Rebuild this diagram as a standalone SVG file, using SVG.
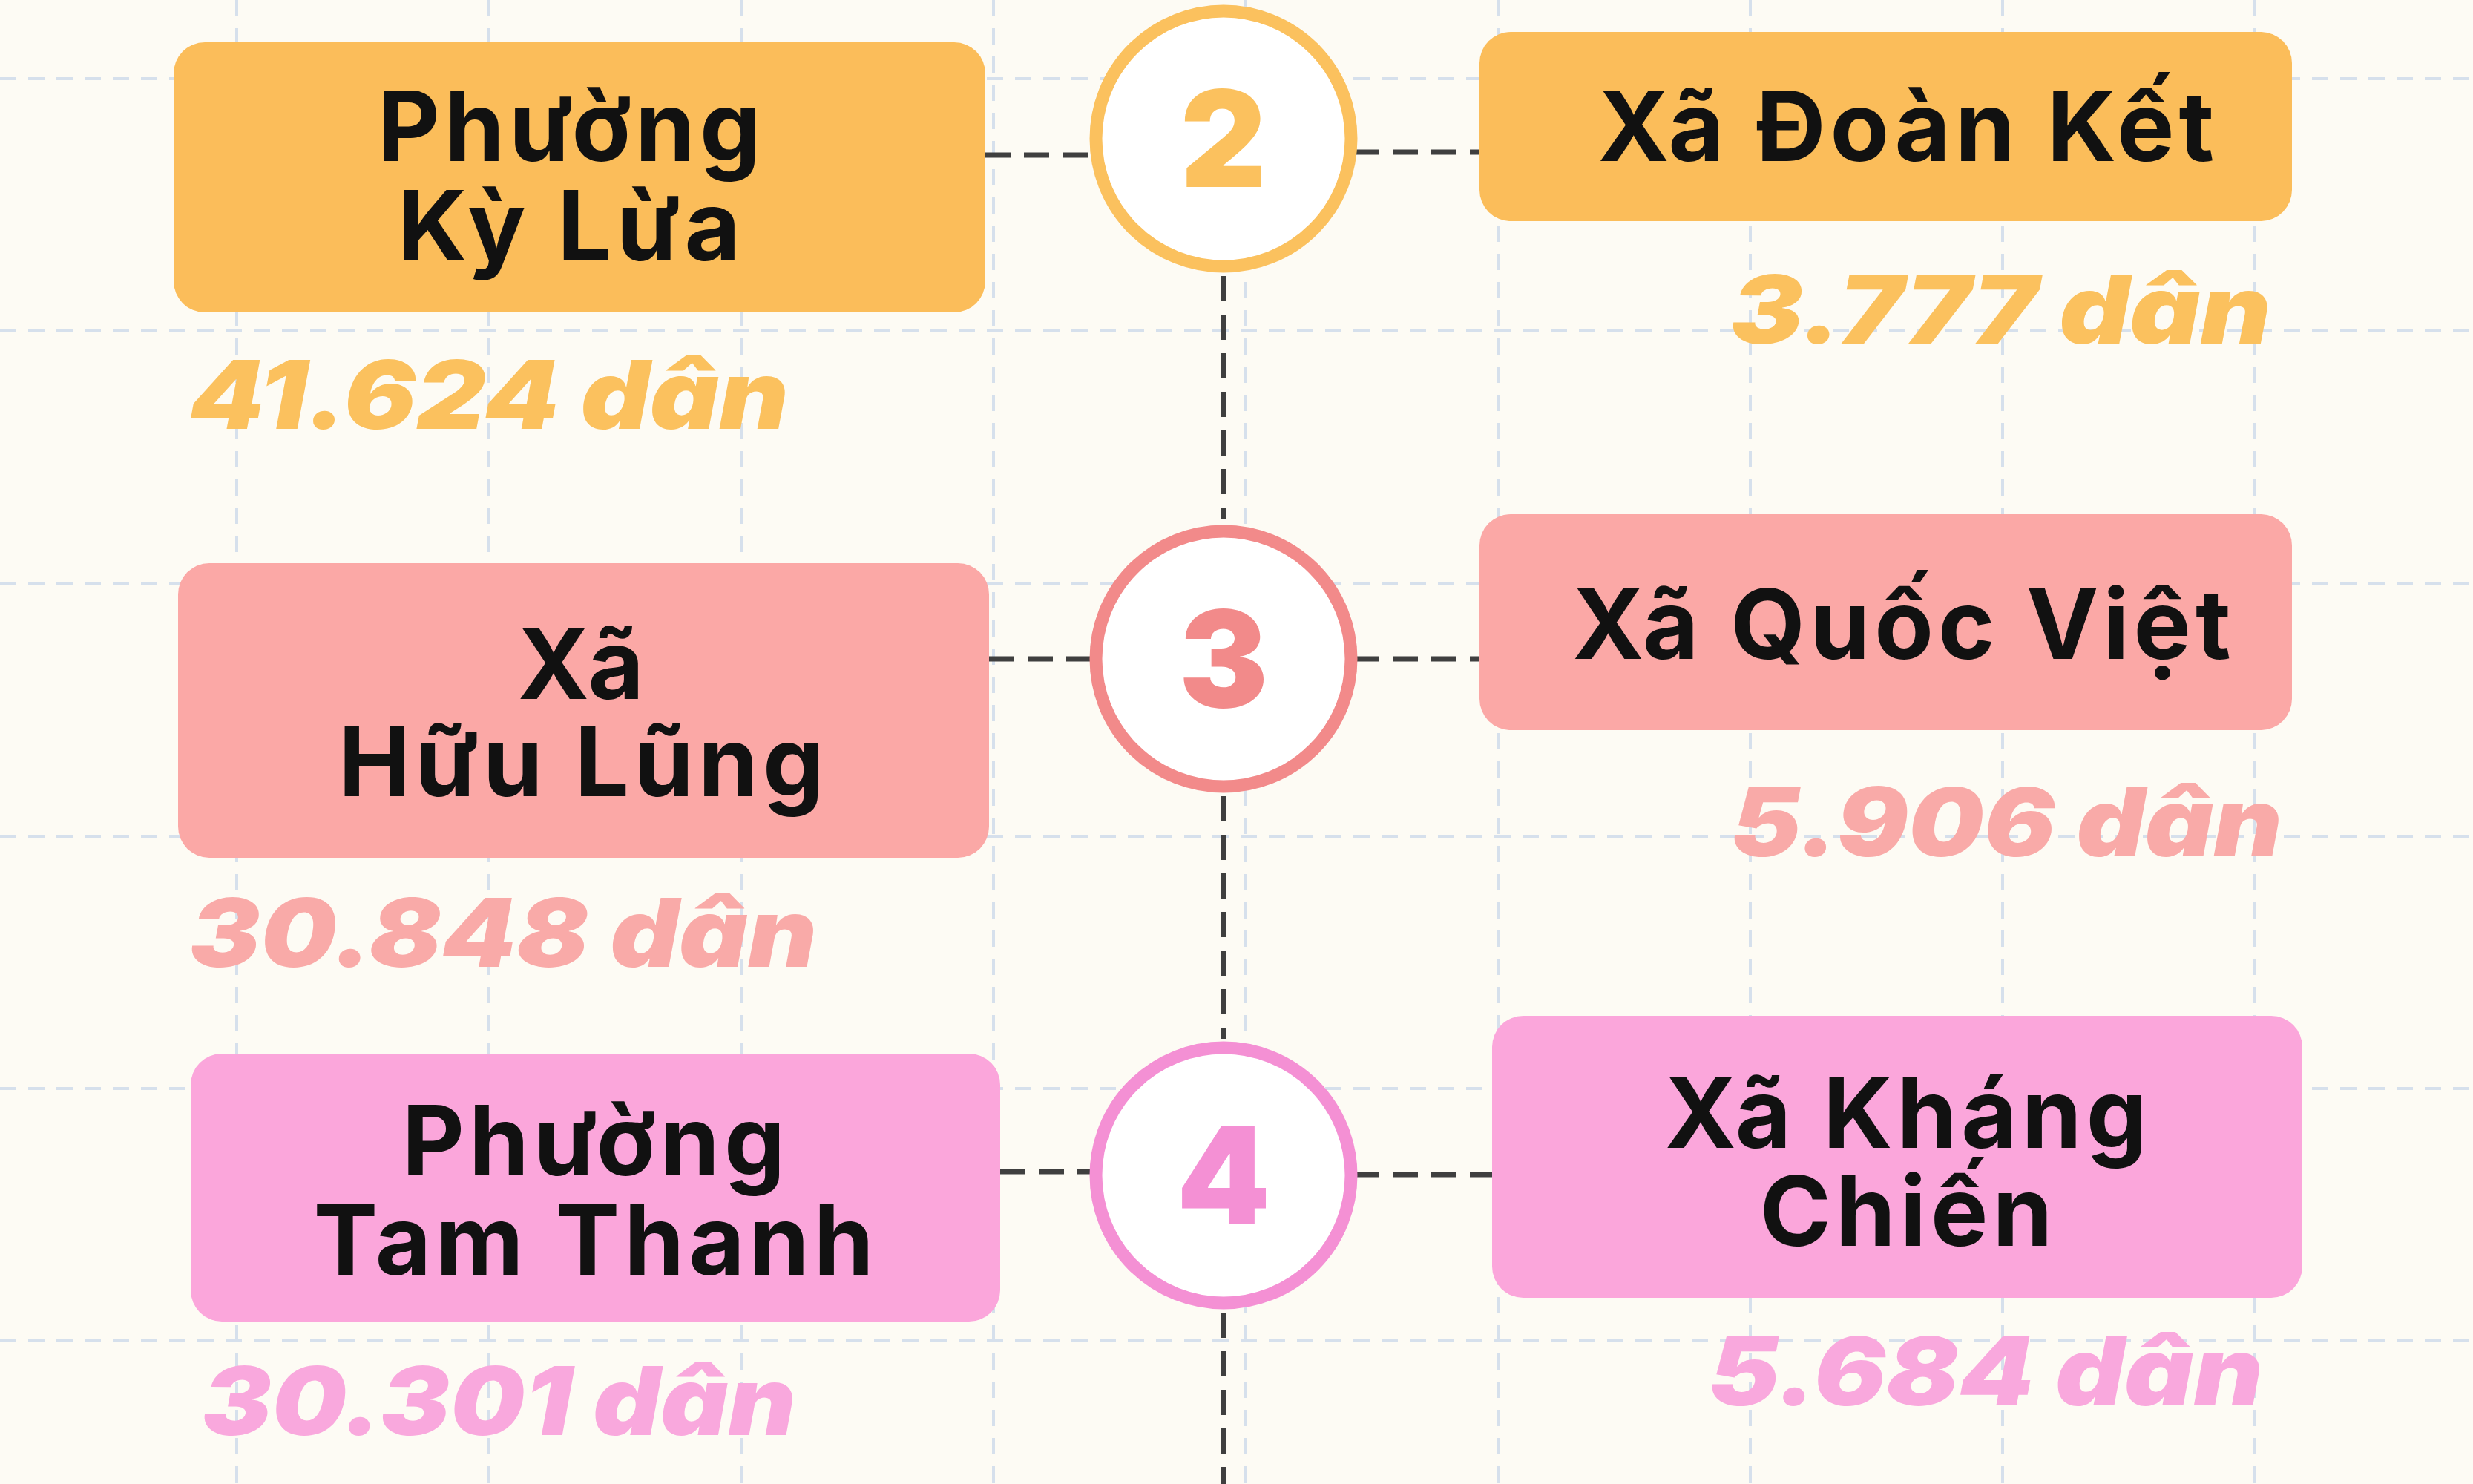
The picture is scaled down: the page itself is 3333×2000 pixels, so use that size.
<svg xmlns="http://www.w3.org/2000/svg" width="3333" height="2000" viewBox="0 0 3333 2000">
<style>
.grid{stroke:#D6E0EC;stroke-width:4;stroke-dasharray:22 16;fill:none}
.conn{stroke:#3F3F3F;stroke-width:7;stroke-dasharray:34 18;fill:none}
.lbl{font-family:Inter,"Open Sans",sans-serif;font-weight:700;font-size:130px;letter-spacing:6px;fill:#111;text-anchor:middle}
.num{font-family:Inter,"Open Sans",sans-serif;font-weight:900;font-style:italic;font-size:128px}
.dig{font-family:Inter,"Open Sans",sans-serif;font-weight:900;font-size:180px;text-anchor:middle}
</style>
<rect width="3333" height="2000" fill="#FDFBF4"/>
<g id="grid">
<path class="grid" d="M319 0V2000M659 0V2000M999 0V2000M1339 0V2000M1679 0V2000M2019 0V2000M2359 0V2000M2699 0V2000M3039 0V2000M0 106H3333M0 446H3333M0 786H3333M0 1127H3333M0 1467H3333M0 1807H3333"/>
</g>
<g id="connectors">
<path class="conn" d="M1649 372V700M1649 1073V1400M1649 1769V2000"/>
<path class="conn" d="M1328 209H1473M1825 205H1994M1333 888H1473M1825 888H1994M1348 1579H1473M1825 1583H2011"/>
</g>
<g id="n2">
<circle cx="1649" cy="187" r="172" fill="#FFFFFF" stroke="#FBC15E" stroke-width="17"/>
<text class="dig" x="1649" y="252" fill="#FBC15E">2</text>
</g>
<g id="n3">
<circle cx="1649" cy="888" r="172" fill="#FFFFFF" stroke="#F28A8A" stroke-width="17"/>
<text class="dig" x="1649" y="953" fill="#F28A8A">3</text>
</g>
<g id="n4">
<circle cx="1649" cy="1584" r="172" fill="#FFFFFF" stroke="#F490D4" stroke-width="17"/>
<text class="dig" x="1649" y="1649" fill="#F490D4">4</text>
</g>
<g id="kyLua">
<rect x="234" y="57" width="1094" height="364" rx="42" fill="#FBBD5A"/>
<text class="lbl" x="770" y="217">Phường</text>
<text class="lbl" x="770" y="351">Kỳ Lừa</text>
<text class="num" x="255" y="578" fill="#FBC15E" textLength="808" lengthAdjust="spacingAndGlyphs">41.624 dân</text>
</g>
<g id="doanKet">
<rect x="1994" y="43" width="1095" height="255" rx="42" fill="#FBBD5A"/>
<text class="lbl" x="2572" y="217">Xã Đoàn Kết</text>
<text class="num" x="2332" y="463" fill="#FBC15E" textLength="729" lengthAdjust="spacingAndGlyphs">3.777 dân</text>
</g>
<g id="huuLung">
<rect x="240" y="759" width="1093" height="397" rx="42" fill="#FBA8A6"/>
<text class="lbl" x="786" y="942">Xã</text>
<text class="lbl" x="786" y="1073">Hữu Lũng</text>
<text class="num" x="255" y="1303" fill="#F9AAA8" textLength="846" lengthAdjust="spacingAndGlyphs">30.848 dân</text>
</g>
<g id="quocViet">
<rect x="1994" y="693" width="1095" height="291" rx="42" fill="#FBA8A6"/>
<text class="lbl" x="2566" y="888">Xã Quốc Việt</text>
<text class="num" x="2332" y="1154" fill="#F9AAA8" textLength="744" lengthAdjust="spacingAndGlyphs">5.906 dân</text>
</g>
<g id="tamThanh">
<rect x="257" y="1420" width="1091" height="361" rx="42" fill="#FBA6DB"/>
<text class="lbl" x="803" y="1584">Phường</text>
<text class="lbl" x="803" y="1718">Tam Thanh</text>
<text class="num" x="272" y="1934" fill="#F9A8DD" textLength="801" lengthAdjust="spacingAndGlyphs">30.301 dân</text>
</g>
<g id="khangChien">
<rect x="2011" y="1369" width="1092" height="380" rx="42" fill="#FBA6DB"/>
<text class="lbl" x="2572" y="1547">Xã Kháng</text>
<text class="lbl" x="2572" y="1679">Chiến</text>
<text class="num" x="2302" y="1894" fill="#F9A8DD" textLength="748" lengthAdjust="spacingAndGlyphs">5.684 dân</text>
</g>
</svg>
